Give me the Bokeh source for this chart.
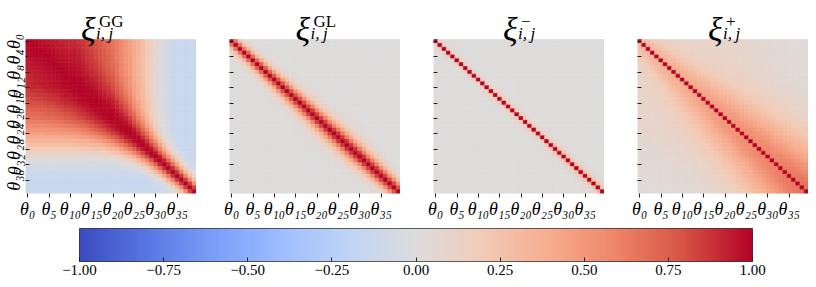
import numpy as np
from bokeh.plotting import figure
from bokeh.models import Range1d, FixedTicker, Label, ColumnDataSource, LinearColorMapper
from bokeh.layouts import row, column
from bokeh.transform import linear_cmap
from bokeh.embed import file_html
from bokeh.resources import INLINE

# ---------------- data ----------------
N = 40
SUB = str.maketrans("0123456789", "\u2080\u2081\u2082\u2083\u2084\u2085\u2086\u2087\u2088\u2089")
theta_labels = ["\u03b8" + str(k).translate(SUB) for k in range(N)]
x_tick_idx = [0, 5, 10, 15, 20, 25, 30, 35]
y_tick_idx = [0, 4, 8, 12, 16, 20, 24, 28, 32, 36]
panel_sups = ["GG", "GL", "\u2212", "+"]

# xi^GG: for each column j, correlation (in %) read upward from the diagonal;
# cells further up than the listed values take the column's far value.
gg_far = [100, 99, 98, 97, 96, 95, 94, 93, 92, 91, 90, 88, 86, 84, 82, 80, 77, 74, 71, 68,
          65, 61, 56, 51, 46, 40, 34, 28, 21, 14, 7, 1, -4, -8, -11, -13, -14, -15, -14, -12]
gg_cols = [
    [100],
    [100, 99],
    [100, 99, 98],
    [100, 99, 98, 97],
    [100, 99, 98, 97, 96],
    [100, 99, 98, 97, 96, 95],
    [100, 99, 98, 97, 96, 95, 94],
    [100, 99, 98, 97, 96, 95, 94, 93],
    [100, 99, 98, 97, 96, 95, 94, 93, 92],
    [100, 99, 98, 97, 96, 95, 94, 93, 92, 91],
    [100, 99, 98, 97, 96, 95, 94, 93, 92, 91, 90],
    [100, 100, 99, 98, 97, 96, 95, 95, 94, 93, 92, 91],
    [100, 100, 99, 98, 97, 96, 95, 94, 93, 92, 91, 90, 89],
    [100, 100, 99, 98, 96, 95, 94, 93, 92, 90, 89, 88, 88, 87],
    [100, 100, 99, 97, 96, 95, 93, 92, 90, 89, 88, 87, 86, 85, 85],
    [100, 100, 99, 97, 96, 94, 92, 91, 89, 88, 87, 86, 85, 84, 83, 82],
    [100, 100, 98, 97, 95, 93, 91, 90, 88, 86, 85, 83, 82, 81, 81, 80, 79],
    [100, 99, 98, 96, 94, 92, 90, 88, 86, 84, 83, 81, 80, 79, 78, 77, 77, 76],
    [100, 99, 98, 96, 94, 91, 89, 87, 85, 83, 81, 79, 78, 77, 75, 75, 74, 73, 73],
    [100, 99, 98, 96, 93, 90, 88, 86, 83, 81, 79, 77, 75, 74, 73, 72, 71, 71, 70, 70],
    [100, 99, 98, 95, 92, 90, 87, 84, 82, 79, 77, 75, 73, 72, 70, 69, 69, 68, 67, 67, 66],
    [100, 99, 97, 94, 91, 88, 84, 81, 78, 75, 73, 71, 69, 67, 66, 65, 64, 63, 63, 63, 62, 62],
    [100, 99, 96, 93, 89, 85, 81, 78, 74, 71, 68, 66, 64, 62, 61, 60, 59, 58, 58, 57, 57, 57, 57],
    [100, 99, 96, 91, 86, 82, 78, 74, 69, 66, 63, 60, 58, 57, 55, 54, 53, 53, 52, 52, 52, 51, 51, 51],
    [100, 98, 95, 89, 84, 78, 74, 69, 64, 61, 57, 55, 53, 51, 50, 49, 48, 48, 47, 47, 47],
    [100, 98, 93, 86, 80, 74, 68, 62, 57, 53, 50, 47, 45, 44, 43, 42, 42, 41, 41],
    [100, 97, 91, 84, 76, 68, 61, 55, 50, 46, 43, 40, 39, 37, 36, 36, 35, 35],
    [100, 97, 89, 80, 70, 63, 54, 48, 42, 38, 35, 33, 32, 31, 30, 29, 29],
    [100, 96, 87, 76, 66, 56, 46, 40, 34, 30, 27, 25, 24, 23, 22, 22],
    [100, 95, 84, 71, 60, 48, 39, 31, 26, 22, 19, 17, 16, 15, 15],
    [100, 94, 81, 66, 53, 39, 29, 22, 17, 14, 11, 10, 8, 8],
    [100, 93, 77, 60, 46, 32, 22, 14, 9, 6, 5, 3, 2],
    [100, 92, 74, 55, 39, 25, 15, 7, 3, 0, -1, -3],
    [100, 90, 71, 51, 33, 19, 8, 2, -2, -4, -6, -7],
    [100, 89, 68, 47, 28, 13, 4, -2, -6, -8, -10],
    [100, 88, 65, 44, 23, 9, -1, -6, -9, -11, -12],
    [100, 86, 62, 38, 19, 5, -3, -8, -11, -13],
    [100, 85, 59, 35, 15, 2, -6, -10, -13, -14],
    [100, 84, 56, 30, 12, -1, -7, -11, -13],
    [100, 83, 54, 27, 9, -1, -6, -10, -11],
]

# xi^GL: band profiles (in %, by offset from the diagonal) and which profile each column shows
gl_profiles = [
    [100, 66, 28, 9, 2],
    [100, 70, 33, 12, 4, 1],
    [100, 74, 40, 17, 6, 2],
    [100, 77, 45, 21, 9, 3, 1],
    [100, 79, 50, 26, 11, 5, 2],
    [100, 82, 54, 30, 14, 6, 3, 1],
    [100, 84, 58, 33, 18, 9, 4, 2],
    [100, 85, 60, 37, 21, 11, 6, 3, 1],
    [100, 87, 63, 41, 24, 13, 7, 4, 2, 1],
]
gl_col_profile = [0, 0, 0, 0, 1, 1, 1, 2, 2, 2, 3, 3, 3, 4, 4, 4, 5, 5, 5, 6,
                  6, 6, 7, 7, 7, 8, 8, 8, 8, 8, 8, 8, 7, 7, 7, 6, 6, 5, 5, 4]

# xi^-: nearly diagonal
xm_profiles = [
    [100, 15, 3],
    [100, 20, 5, 1],
    [100, 25, 8, 2],
]
xm_col_profile = [0] * 14 + [1] * 14 + [2] * 12

# xi^+: for each column j, correlation (in %) read upward from the diagonal
xp_cols = [
    [100],
    [100, 31],
    [100, 32, 27],
    [100, 33, 29, 22],
    [100, 34, 30, 24, 18],
    [100, 35, 32, 25, 20, 15],
    [100, 36, 33, 27, 21, 17, 13],
    [100, 37, 34, 29, 23, 18, 15, 12],
    [100, 38, 35, 30, 25, 20, 16, 13, 12],
    [100, 39, 37, 32, 26, 21, 17, 14, 12, 11],
    [100, 40, 38, 33, 28, 23, 19, 16, 13, 12, 11],
    [100, 40, 38, 34, 29, 24, 20, 16, 14, 12, 11, 10],
    [100, 41, 39, 35, 30, 25, 21, 18, 15, 13, 12, 11, 10],
    [100, 42, 40, 36, 31, 27, 23, 19, 16, 14, 12, 11, 11, 10],
    [100, 43, 41, 37, 33, 28, 24, 20, 17, 15, 13, 12, 11, 10, 10],
    [100, 44, 42, 39, 34, 30, 25, 21, 18, 16, 14, 12, 11, 11, 10, 10],
    [100, 45, 44, 40, 36, 31, 27, 23, 19, 17, 15, 13, 12, 11, 10, 10, 10],
    [100, 46, 45, 41, 37, 32, 28, 24, 21, 18, 16, 14, 13, 11, 11, 10, 10, 10],
    [100, 47, 46, 42, 38, 34, 30, 26, 22, 19, 17, 15, 13, 12, 11, 11, 10, 10, 10],
    [100, 48, 47, 43, 39, 35, 31, 27, 23, 20, 18, 15, 14, 12, 11, 11, 10, 10, 10, 9],
    [100, 49, 47, 45, 41, 36, 32, 28, 24, 21, 19, 16, 14, 13, 12, 11, 11, 10, 10, 10, 9],
    [100, 50, 49, 46, 42, 37, 34, 30, 26, 22, 20, 17, 15, 14, 13, 12, 11, 11, 10, 10, 9, 9],
    [100, 51, 50, 47, 43, 39, 34, 30, 27, 23, 20, 18, 15, 14, 12, 11, 11, 10, 10, 9, 9, 9, 8],
    [100, 52, 51, 48, 44, 40, 36, 32, 28, 24, 21, 19, 16, 14, 13, 12, 11, 10, 10, 9, 9, 9, 8, 8],
    [100, 53, 52, 49, 45, 41, 37, 33, 29, 25, 22, 20, 17, 15, 14, 13, 11, 11, 10, 10, 9, 9, 9, 8, 8],
    [100, 54, 53, 50, 46, 42, 38, 34, 30, 26, 23, 20, 17, 16, 14, 12, 11, 10, 9, 9, 8, 8, 8, 8, 7, 7],
    [100, 55, 54, 51, 47, 43, 39, 35, 32, 28, 24, 21, 18, 16, 14, 13, 12, 11, 10, 9, 9, 8, 8, 8, 8, 7, 7],
    [100, 56, 55, 52, 49, 44, 40, 36, 32, 28, 25, 21, 19, 16, 14, 13, 11, 10, 9, 9, 8, 8, 7, 7, 7, 7, 6, 6],
    [100, 57, 56, 53, 50, 46, 41, 37, 34, 30, 26, 22, 20, 18, 15, 13, 12, 11, 10, 9, 8, 8, 8, 7, 7, 7, 7, 6, 6],
    [100, 58, 57, 54, 51, 47, 43, 39, 35, 31, 27, 24, 21, 18, 16, 14, 13, 11, 10, 9, 9, 8, 8, 7, 7, 7, 7, 6, 6, 6],
    [100, 59, 58, 56, 52, 48, 44, 39, 36, 32, 28, 24, 21, 19, 16, 14, 13, 11, 10, 9, 8, 8, 7, 7, 6, 6, 6, 6, 5, 5, 5],
    [100, 59, 58, 56, 52, 48, 44, 40, 37, 33, 29, 25, 22, 20, 17, 15, 13, 12, 10, 9, 9, 8, 7, 7, 7, 6, 6, 6, 5, 5, 5, 5],
    [100, 60, 59, 57, 53, 49, 45, 41, 37, 33, 30, 26, 23, 20, 17, 15, 13, 12, 10, 9, 8, 7, 7, 6, 6, 6, 5, 5, 5, 4, 4, 4, 4],
    [100, 61, 60, 58, 54, 50, 47, 42, 38, 35, 31, 27, 24, 21, 18, 16, 14, 12, 11, 10, 9, 8, 7, 7, 6, 6, 5, 5, 5, 5, 4, 4, 4, 4],
    [100, 62, 61, 59, 55, 52, 48, 44, 39, 36, 32, 28, 25, 22, 19, 17, 15, 13, 11, 10, 9, 8, 7, 7, 6, 6, 6, 5, 5, 5, 5, 4, 4, 4, 4],
    [100, 63, 62, 60, 57, 53, 49, 44, 41, 37, 33, 29, 26, 22, 20, 17, 15, 13, 11, 10, 9, 8, 7, 6, 6, 5, 5, 5, 4, 4, 4, 4, 3, 3, 3, 3],
    [100, 64, 63, 61, 58, 54, 50, 46, 42, 38, 34, 31, 27, 24, 21, 18, 16, 14, 12, 11, 9, 8, 7, 7, 6, 6, 5, 5, 4, 4, 4, 4, 4, 3, 3, 3, 3],
    [100, 65, 64, 62, 59, 55, 51, 47, 43, 39, 36, 32, 28, 25, 22, 19, 17, 15, 13, 11, 10, 9, 8, 7, 6, 6, 5, 5, 5, 4, 4, 4, 4, 3, 3, 3, 3, 3],
    [100, 66, 65, 63, 60, 56, 52, 48, 44, 40, 37, 33, 29, 25, 23, 20, 17, 15, 13, 11, 10, 8, 8, 7, 6, 5, 5, 4, 4, 4, 3, 3, 3, 3, 2, 2, 2, 2, 2],
    [100, 67, 66, 64, 61, 58, 53, 50, 45, 42, 38, 34, 30, 27, 23, 21, 18, 16, 14, 12, 11, 9, 8, 7, 6, 6, 5, 5, 4, 4, 4, 3, 3, 3, 3, 2, 2, 2, 2, 2],
]

cbar_ticks = [-1.0, -0.75, -0.5, -0.25, 0.0, 0.25, 0.5, 0.75, 1.0]
cbar_labels = ["\u22121.00", "\u22120.75", "\u22120.50", "\u22120.25", "0.00", "0.25", "0.50", "0.75", "1.00"]

# ---------------- build matrices ----------------
def from_columns(cols, far=None):
    M = np.zeros((N, N))
    for j in range(N):
        col = cols[j]
        for d in range(j + 1):
            if d < len(col):
                v = col[d]
            else:
                v = far[j] if far is not None else col[-1]
            M[j - d, j] = M[j, j - d] = v / 100.0
    return M


def from_profiles(profiles, which):
    M = np.zeros((N, N))
    for j in range(N):
        prof = profiles[which[j]]
        for d in range(j + 1):
            v = prof[d] if d < len(prof) else 0
            M[j - d, j] = M[j, j - d] = v / 100.0
    return M


mats = [from_columns(gg_cols, gg_far), from_profiles(gl_profiles, gl_col_profile),
        from_profiles(xm_profiles, xm_col_profile), from_columns(xp_cols)]

# ---------------- coolwarm palette ----------------
anchors = ["#3b4cc0", "#5977e3", "#7b9ff9", "#9ebeff", "#c0d4f5", "#dddcdc",
           "#f2cbb7", "#f7ac8e", "#ee8468", "#d65244", "#b40426"]
arr = np.array([[int(h[i:i + 2], 16) for i in (1, 3, 5)] for h in anchors], float)
pos = np.linspace(0, 1, len(anchors))
pal = []
for t in np.linspace(0, 1, 256):
    rgb = [np.interp(t, pos, arr[:, c]) for c in range(3)]
    pal.append("#%02x%02x%02x" % tuple(int(round(v)) for v in rgb))

SERIF = "Liberation Serif"
FW, FH = 171, 154          # heat-map area in px
TITLE_H = 31               # title strip above each heat-map, px
CELLW = FW / 40.0
CELLH = FH / 40.0
top_data = -TITLE_H / CELLH

panels = []
left_borders = [25, 33, 33, 33]
xi_off_px = [-30.0, -19.5, -16.0, -15.0]
for k, M in enumerate(mats):
    ii, jj = np.meshgrid(np.arange(N), np.arange(N), indexing="ij")
    src = ColumnDataSource(dict(x=(jj + 0.5).ravel(), y=(ii + 0.5).ravel(), v=M.ravel()))
    p = figure(frame_width=FW, frame_height=FH + TITLE_H, x_range=Range1d(0, 40),
               y_range=Range1d(40, top_data),
               output_backend="svg", toolbar_location=None,
               min_border_left=left_borders[k], min_border_right=0,
               min_border_top=8, min_border_bottom=35)
    p.rect(x="x", y="y", width=1, height=1, source=src, fill_color=linear_cmap("v", pal, -1, 1),
           line_color=linear_cmap("v", pal, -1, 1), line_width=0.6)
    p.grid.visible = False
    p.outline_line_color = None
    p.background_fill_color = "white"
    p.border_fill_color = "white"

    xa = p.xaxis[0]
    xa.ticker = FixedTicker(ticks=[t + 0.5 for t in x_tick_idx])
    xa.major_label_overrides = {t + 0.5: theta_labels[t] for t in x_tick_idx}
    xa.axis_line_color = None
    xa.minor_tick_line_color = None
    xa.major_tick_in = 0
    xa.major_tick_out = 4
    xa.major_tick_line_color = "#222222"
    xa.major_label_standoff = 1
    xa.major_label_text_font = SERIF
    xa.major_label_text_font_style = "italic"
    xa.major_label_text_font_size = "18px"
    xa.major_label_text_color = "black"

    ya = p.yaxis[0]
    ya.ticker = FixedTicker(ticks=[t + 0.5 for t in y_tick_idx])
    if k == 0:
        ya.major_label_overrides = {t + 0.5: theta_labels[t] for t in y_tick_idx}
    else:
        ya.major_label_overrides = {t + 0.5: "" for t in y_tick_idx}
    ya.axis_line_color = None
    ya.minor_tick_line_color = None
    ya.major_tick_in = 4
    ya.major_tick_out = 0
    ya.major_tick_line_color = "#222222"
    ya.major_label_standoff = 1
    ya.major_label_orientation = "vertical"
    ya.major_label_text_font = SERIF
    ya.major_label_text_font_style = "italic"
    ya.major_label_text_color = "black"
    ya.major_label_text_font_size = "18px"

    # title  xi^{sup}_{i,j}
    xl = 20.0 + xi_off_px[k] / CELLW
    p.add_layout(Label(x=xl, y=-10.0 / CELLH, text="\u03be", text_font=SERIF, text_font_style="italic",
                       text_font_size="34px", text_baseline="alphabetic", text_align="left",
                       text_color="black"))
    p.add_layout(Label(x=xl + 18 / CELLW, y=-18.0 / CELLH, text=panel_sups[k], text_font=SERIF,
                       text_font_size="17px", text_baseline="alphabetic", text_align="left",
                       text_color="black"))
    p.add_layout(Label(x=xl + 15 / CELLW, y=-6.0 / CELLH, text="i,\u2009j", text_font=SERIF,
                       text_font_style="italic", text_font_size="17px", text_baseline="alphabetic",
                       text_align="left", text_color="black"))
    panels.append(p)

# ---------------- colour bar ----------------
cb = figure(frame_width=673, frame_height=33, x_range=Range1d(-1, 1), y_range=Range1d(0, 1),
            output_backend="svg", toolbar_location=None,
            min_border_left=79, min_border_right=56, min_border_top=0, min_border_bottom=0)
grad = np.array([np.linspace(-1, 1, 512)])
cb.image(image=[grad], x=-1, y=0, dw=2, dh=1,
         color_mapper=LinearColorMapper(palette=pal, low=-1, high=1))
cb.grid.visible = False
cb.yaxis.visible = False
cb.outline_line_color = "#333333"
cb.outline_line_width = 1
ca = cb.xaxis[0]
ca.ticker = FixedTicker(ticks=cbar_ticks)
ca.major_label_overrides = dict(zip(cbar_ticks, cbar_labels))
ca.axis_line_color = None
ca.minor_tick_line_color = None
ca.major_tick_in = 4
ca.major_tick_out = 0
ca.major_tick_line_color = "#222222"
ca.major_label_standoff = 3
ca.major_label_text_font = SERIF
ca.major_label_text_font_size = "15px"
ca.major_label_text_color = "black"

layout = column(row(*panels, spacing=0), cb, spacing=0)
html = file_html(layout, INLINE)
html = html.replace("<head>", "<head><style>html,body{overflow:hidden;}</style>", 1)
open("out.html", "w").write(html)
